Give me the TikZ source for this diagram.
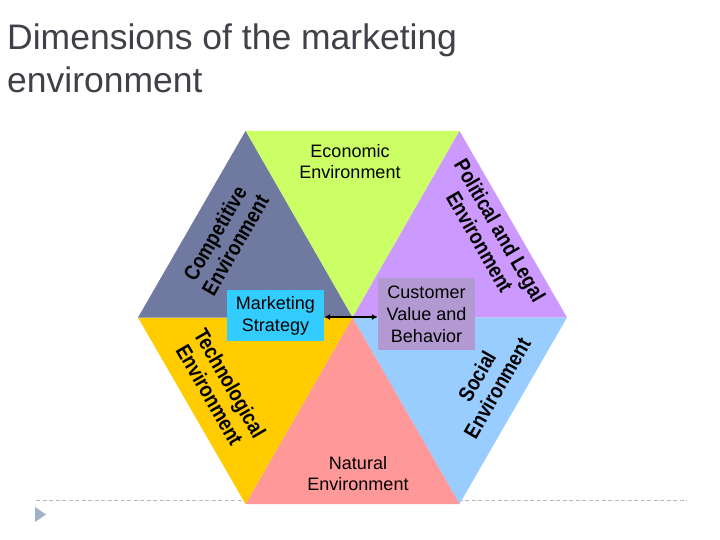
\documentclass[tikz,border=0pt]{standalone}
\usepackage{fontspec}
\setmainfont{Liberation Sans}
\newfontfamily\labfont[FakeStretch=0.85]{Liberation Sans}
\usetikzlibrary{arrows.meta}
\definecolor{econ}{HTML}{CCFF66}
\definecolor{comp}{RGB}{112,122,160}
\definecolor{poli}{HTML}{CC99FF}
\definecolor{tech}{HTML}{FFCC00}
\definecolor{soci}{HTML}{99CCFF}
\definecolor{natu}{HTML}{FF9999}
\definecolor{mkt}{HTML}{33CCFF}
\definecolor{cust}{RGB}{179,153,209}
\definecolor{titlec}{RGB}{64,64,72}
\definecolor{marker}{RGB}{160,176,200}
\tikzset{
  sidelabel/.style={font=\labfont\fontsize{21.5}{23.5}\selectfont\bfseries, align=center, inner sep=0pt},
  seglabel/.style={font=\fontsize{18}{21}\selectfont, align=center, inner sep=0pt},
  boxlabel/.style={font=\fontsize{18}{22}\selectfont, align=center, inner sep=0pt, minimum width=97pt},
}
\begin{document}
\begin{tikzpicture}[x=1pt,y=-1pt]
\useasboundingbox (0,0) rectangle (720,540);
% title
\node[anchor=base west, text=titlec, font=\fontsize{35.5}{44}\selectfont, inner sep=0pt] (title) at (7,50) {Dimensions of the marketing};
\node[anchor=base west, text=titlec, font=\fontsize{35.5}{44}\selectfont, inner sep=0pt] (title2) at (7,93) {environment};
% footer
\draw[gray!55, dash pattern=on 4pt off 2.5pt, line width=0.8pt] (36,500) -- (687,500);
\fill[marker] (35,507) -- (46,514.5) -- (35,522) -- cycle;
% hexagon
\coordinate (c) at (352.5,317.5);
\coordinate (tl) at (245.5,131);
\coordinate (tr) at (459.5,131);
\coordinate (r) at (567,317.5);
\coordinate (br) at (459.5,504);
\coordinate (bl) at (245.5,504);
\coordinate (l) at (138,317.5);
\fill[econ] (c) -- (tl) -- (tr) -- cycle;
\fill[poli] (c) -- (tr) -- (r) -- cycle;
\fill[soci] (c) -- (r) -- (br) -- cycle;
\fill[natu] (c) -- (br) -- (bl) -- cycle;
\fill[tech] (c) -- (bl) -- (l) -- cycle;
\fill[comp] (c) -- (l) -- (tl) -- cycle;
% segment labels
\node[seglabel] (econL) at (350,162) {Economic\\Environment};
\node[seglabel] (natL) at (358,474) {Natural\\Environment};
\node[sidelabel, rotate=60] (compL) at (225,239) {Competitive\\Environment};
\node[sidelabel, rotate=-60] (poliL) at (490,236) {Political and Legal\\Environment};
\node[sidelabel, rotate=-60] (techL) at (220,389) {Technological\\Environment};
\node[sidelabel, rotate=60] (socL) at (487,382) {Social\\Environment};
% central boxes
\node[boxlabel, fill=mkt, minimum height=51pt] (ms) at (275.5,315.5) {Marketing\\Strategy};
\node[boxlabel, fill=cust, minimum height=72pt] (cv) at (426.5,314) {Customer\\Value and\\Behavior};
\draw[{Latex[length=6pt,width=6pt]}-{Latex[length=6pt,width=6pt]}, line width=1.4pt] (ms.east |- 0,317) -- (cv.west |- 0,317);
\end{tikzpicture}
\end{document}
